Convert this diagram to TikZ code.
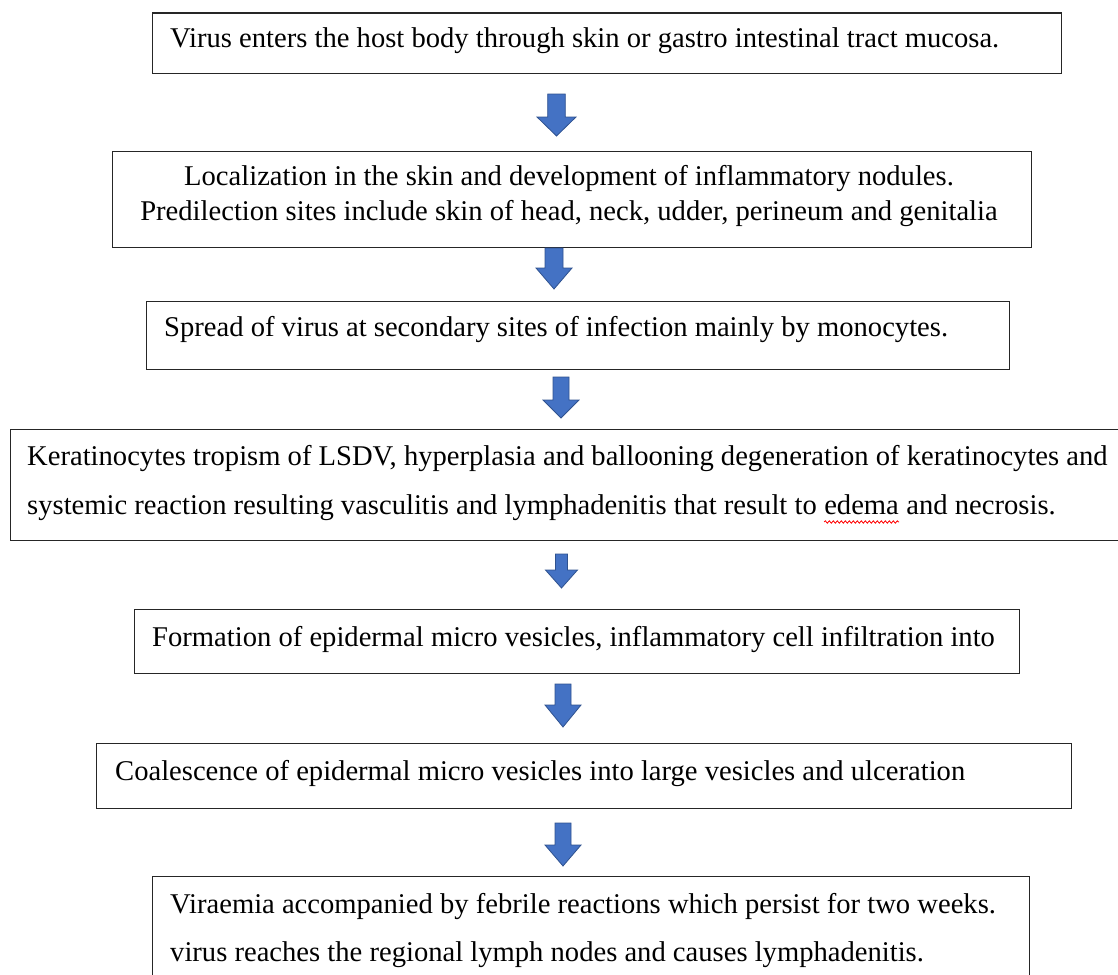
\documentclass[tikz,border=0pt]{standalone}
\usepackage{fontspec}
\setmainfont{Liberation Serif}
\usetikzlibrary{decorations.pathmorphing}
\definecolor{arrowfill}{HTML}{4472C4}
\definecolor{arrowline}{HTML}{2F528F}
\definecolor{boxline}{HTML}{262626}
\tikzset{
  pics/blockarrow/.style n args={4}{code={
    \filldraw[fill=arrowfill, draw=arrowline, line width=0.8pt, line join=miter]
      (-#1/2,0) -- (#1/2,0) -- (#1/2,#3) -- (#2/2,#3) -- (0,#4)
      -- (-#2/2,#3) -- (-#1/2,#3) -- cycle;
  }}
}
\begin{document}
\begin{tikzpicture}[x=1pt,y=-1pt,
  box/.style={draw=boxline, line width=1.4pt, rectangle, inner sep=0pt, anchor=north west},
  txt/.style={inner sep=0pt, anchor=base west, font=\fontsize{28.6}{34}\selectfont, text=black},
  ctxt/.style={txt, anchor=base},
  spell/.style={draw=red, line width=0.8pt, decorate, decoration={snake, amplitude=1.2pt, segment length=4pt}}
]
\useasboundingbox (0,0) rectangle (1118,974);
\clip (0,0) rectangle (1118,974);

% boxes
\node[box, minimum width=909pt, minimum height=60pt] (b1) at (152,12.5) {};
\node[box, minimum width=919pt, minimum height=96pt] (b2) at (112,151) {};
\node[box, minimum width=863pt, minimum height=68pt] (b3) at (146,301) {};
\node[box, minimum width=1130pt, minimum height=111pt] (b4) at (9.5,429) {};
\node[box, minimum width=885pt, minimum height=64pt] (b5) at (134,609) {};
\node[box, minimum width=975pt, minimum height=65pt] (b6) at (96,743) {};
\node[box, minimum width=877pt, minimum height=130pt] (b7) at (152,876) {};

% texts
\node[txt] (t1) at (170,48) {Virus enters the host body through skin or gastro intestinal tract mucosa.};
\node[ctxt] (t2a) at (569,185) {Localization in the skin and development of inflammatory nodules.};
\node[ctxt] (t2b) at (569,220) {Predilection sites include skin of head, neck, udder, perineum and genitalia};
\node[txt] (t3) at (164,336) {Spread of virus at secondary sites of infection mainly by monocytes.};
\node[txt] (t4a) at (27,465) {Keratinocytes tropism of LSDV, hyperplasia and ballooning degeneration of keratinocytes and};
\node[txt] (t4b) at (27,514) {systemic reaction resulting vasculitis and lymphadenitis that result to};
\node[txt, xshift=7.15pt] (t4c) at (t4b.base east) {edema};
\node[txt, xshift=7.15pt] (t4d) at (t4c.base east) {and necrosis.};
\draw[spell] ([yshift=-8pt]t4c.base west) -- ([yshift=-8pt]t4c.base east);
\node[txt] (t5) at (152,646.5) {Formation of epidermal micro vesicles, inflammatory cell infiltration into};
\node[txt] (t6) at (115,780) {Coalescence of epidermal micro vesicles into large vesicles and ulceration};
\node[txt] (t7a) at (170,913) {Viraemia accompanied by febrile reactions which persist for two weeks.};
\node[txt] (t7b) at (170,961.5) {virus reaches the regional lymph nodes and causes lymphadenitis.};

% block arrows
\pic (a1) at (556.5,94) {blockarrow={17.6}{39}{23}{42}};
\pic (a2) at (554,248) {blockarrow={18}{36}{20}{41}};
\pic (a3) at (561,377) {blockarrow={16}{36}{23}{41}};
\pic (a4) at (561.5,554) {blockarrow={12}{32}{16}{34}};
\pic (a5) at (563,684) {blockarrow={16}{36}{21}{43}};
\pic (a6) at (563,823) {blockarrow={16}{36}{22}{43}};
\end{tikzpicture}
\end{document}
